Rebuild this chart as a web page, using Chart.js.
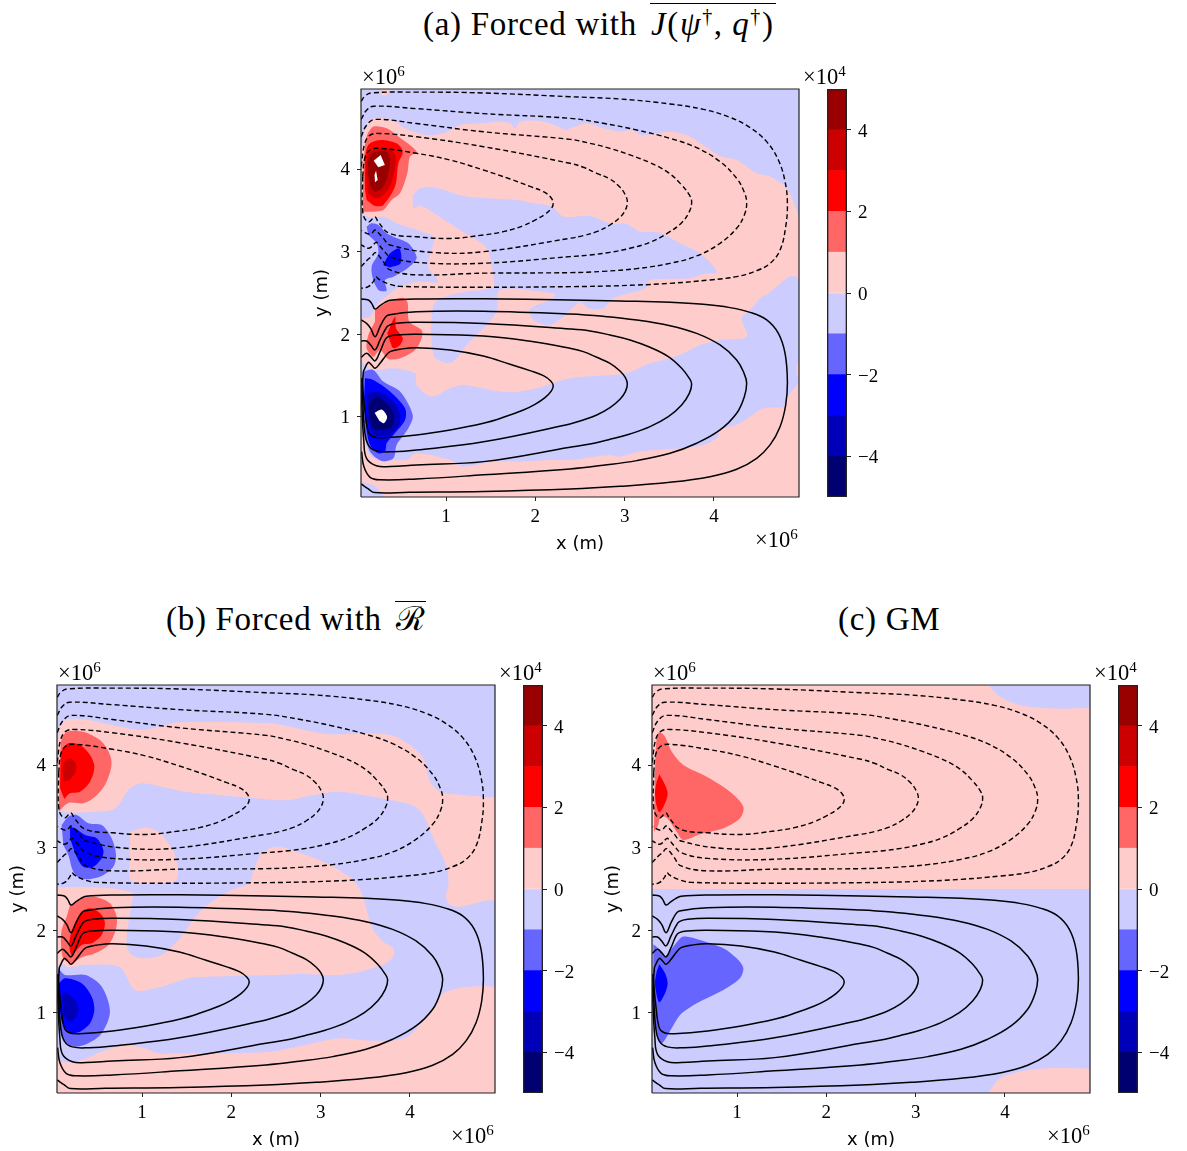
<!DOCTYPE html>
<html><head><meta charset="utf-8">
<script src="https://cdn.jsdelivr.net/npm/chart.js@4"></script>
<style>
html,body{margin:0;padding:0;background:#fff;width:1187px;height:1151px;overflow:hidden}
canvas{position:absolute}
.t{position:absolute;white-space:nowrap;font-family:"Liberation Serif",serif;color:#000}
.title{font-size:33px;line-height:36px;letter-spacing:.7px}
.title i{font-style:italic}
.title sup{font-size:20px;line-height:0}
.ov{border-top:1.5px solid #000;display:inline-block;line-height:34px;padding:0 1px}
.math{letter-spacing:1.7px;margin-left:4px;line-height:40px}
.off{font-size:22.5px;line-height:20px}
.off sup{font-size:15px;line-height:0}
</style></head><body>
<div class="t title" style="left:423px;top:3px">(a) Forced with <span class="ov math"><i>J</i>(<i>ψ</i><sup>†</sup>,&#8201;<i>q</i><sup>†</sup>)</span></div>
<div class="t title" style="left:166px;top:601px">(b) Forced with <span class="ov" style="margin-left:4px"><span style="font-family:'DejaVu Serif'">ℛ</span></span></div>
<div class="t title" style="left:838px;top:601px">(c) GM</div>
<canvas id="pa"></canvas><canvas id="ca"></canvas>
<canvas id="pb"></canvas><canvas id="cb"></canvas>
<canvas id="pc"></canvas><canvas id="cc"></canvas>
<div class="t off" style="left:362px;top:67px">×10<sup>6</sup></div>
<div class="t off" style="left:803px;top:67px">×10<sup>4</sup></div>
<div class="t off" style="left:755px;top:530px">×10<sup>6</sup></div>
<div class="t off" style="left:58px;top:663px">×10<sup>6</sup></div>
<div class="t off" style="left:499px;top:663px">×10<sup>4</sup></div>
<div class="t off" style="left:451px;top:1126px">×10<sup>6</sup></div>
<div class="t off" style="left:653px;top:663px">×10<sup>6</sup></div>
<div class="t off" style="left:1094px;top:663px">×10<sup>4</sup></div>
<div class="t off" style="left:1047px;top:1126px">×10<sup>6</sup></div>
<script>
// ---- axis content (units: 1e6 m, colour bar 1e4) ----
const xTicks=[1,2,3,4];
const yTicks=[1,2,3,4];
const domainX=[0.048,4.952];
const domainY=[0.032,4.968];
const barLevels=[-5,-4,-3,-2,-1,0,1,2,3,4,5];
const barColors=["#000070","#0000b8","#0000ff","#6666ff","#ccccff","#ffcccc","#ff6666","#ff0000","#cc0000","#990000"];
const barTicks=[-4,-2,0,2,4];
const xName="x (m)", yName="y (m)";

// ---- streamfunction contours, lower gyre ----
const C1=[[.05,2.428],[.13,2.416],[.167,2.375],[.205,2.307],[.261,2.347],[.317,2.387],[.373,2.412],[.67,2.428],[1.42,2.43],[2.39,2.416],[2.948,2.403],[3.508,2.387],[3.881,2.363],[4.18,2.323],[4.404,2.266],[4.59,2.174],[4.721,2.012],[4.796,1.77],[4.822,1.428],[4.803,1.145],[4.74,.883],[4.628,.662],[4.478,.5],[4.254,.367],[3.956,.278],[3.508,.21],[2.948,.161],[2.39,.129],[1.42,.10],[.59,.09],[.2,.085],[.13,.13],[.05,.19]];
const C2=[[.05,2.174],[.11,2.133],[.156,2.073],[.205,1.972],[.261,2.093],[.317,2.202],[.354,2.234],[.67,2.274],[1.42,2.28],[2.388,2.246],[2.761,2.218],[3.135,2.174],[3.508,2.105],[3.806,2.012],[4.068,1.871],[4.254,1.69],[4.337,1.528],[4.366,1.408],[4.34,1.246],[4.254,1.045],[4.068,.843],[3.806,.682],[3.508,.561],[3.135,.472],[2.761,.416],[2.388,.371],[1.42,.3],[.67,.25],[.26,.24],[.15,.27],[.08,.4],[.055,.58]];
const C3=[[.05,1.92],[.11,1.92],[.156,1.871],[.205,1.811],[.261,1.932],[.317,2.053],[.354,2.105],[.447,2.133],[.67,2.145],[1.42,2.13],[2.388,2.065],[2.612,2.041],[2.836,1.992],[3.06,1.932],[3.284,1.843],[3.489,1.73],[3.638,1.589],[3.724,1.468],[3.75,1.399],[3.724,1.286],[3.638,1.145],[3.489,1.004],[3.284,.883],[3.06,.795],[2.836,.73],[2.612,.674],[2.388,.633],[1.42,.46],[.67,.42],[.373,.4],[.22,.41],[.11,.5],[.08,.7],[.055,1.19],[.05,1.47]];
const C4=[[.05,1.72],[.11,1.77],[.156,1.73],[.205,1.678],[.261,1.791],[.317,1.932],[.354,1.972],[.447,1.992],[.67,2.0],[1.42,1.98],[1.98,1.91],[2.388,1.831],[2.537,1.791],[2.687,1.722],[2.836,1.649],[2.948,1.557],[3.008,1.476],[3.03,1.399],[3.008,1.307],[2.948,1.214],[2.836,1.113],[2.687,1.024],[2.537,.964],[2.388,.916],[1.42,.70],[.67,.60],[.41,.58],[.22,.59],[.13,.66],[.09,.82],[.067,1.19],[.055,1.47]];
const C5=[[.074,1.55],[.13,1.661],[.167,1.629],[.205,1.589],[.261,1.649],[.317,1.73],[.373,1.79],[.485,1.82],[.67,1.839],[1.045,1.811],[1.418,1.738],[1.717,1.637],[1.94,1.561],[2.09,1.5],[2.172,1.436],[2.2,1.379],[2.18,1.315],[2.108,1.234],[1.996,1.153],[1.866,1.085],[1.642,.996],[1.418,.924],[1.045,.843],[.67,.783],[.30,.75],[.186,.76],[.13,.82],[.093,1.07],[.067,1.39],[.074,1.55]];
// ---- streamfunction contours, upper gyre ----
const U1=[[.05,4.82],[.09,4.88],[.165,4.92],[.67,4.93],[1.42,4.92],[2.388,4.875],[2.948,4.847],[3.508,4.787],[3.881,4.722],[4.18,4.625],[4.404,4.5],[4.59,4.331],[4.721,4.109],[4.796,3.847],[4.822,3.585],[4.803,3.303],[4.74,3.02],[4.628,2.859],[4.478,2.77],[4.254,2.698],[3.956,2.658],[3.508,2.617],[2.948,2.589],[2.388,2.577],[1.42,2.57],[.485,2.58],[.373,2.605],[.298,2.637],[.242,2.67],[.216,2.698],[.186,2.637],[.13,2.577],[.05,2.557]];
const U2=[[.05,4.6],[.11,4.71],[.19,4.76],[.67,4.73],[1.42,4.67],[2.388,4.613],[2.761,4.553],[3.135,4.472],[3.508,4.371],[3.806,4.258],[4.068,4.089],[4.254,3.887],[4.337,3.726],[4.366,3.593],[4.34,3.444],[4.254,3.283],[4.068,3.101],[3.806,2.948],[3.508,2.859],[3.135,2.795],[2.761,2.762],[2.388,2.746],[1.42,2.74],[.67,2.72],[.373,2.779],[.298,2.879],[.242,2.96],[.205,2.988],[.167,2.94],[.13,2.912],[.05,2.819]];
const U3=[[.05,4.39],[.11,4.53],[.205,4.6],[.67,4.55],[1.42,4.45],[2.388,4.359],[2.612,4.311],[2.836,4.25],[3.06,4.17],[3.284,4.077],[3.489,3.956],[3.638,3.807],[3.724,3.686],[3.75,3.605],[3.724,3.484],[3.638,3.351],[3.489,3.23],[3.284,3.113],[3.06,3.041],[2.836,2.992],[2.612,2.96],[2.388,2.94],[1.42,2.86],[.67,2.87],[.373,2.94],[.298,3.021],[.242,3.089],[.216,3.113],[.167,3.061],[.13,3.041],[.05,3.081]];
const U4=[[.05,4.03],[.09,4.31],[.15,4.41],[.26,4.43],[.67,4.39],[1.42,4.27],[2.388,4.069],[2.537,4.021],[2.687,3.948],[2.836,3.879],[2.948,3.779],[3.008,3.686],[3.03,3.605],[3.008,3.504],[2.948,3.416],[2.836,3.323],[2.687,3.242],[2.537,3.194],[2.388,3.162],[1.42,3.0],[.86,2.99],[.373,3.081],[.298,3.162],[.242,3.23],[.205,3.262],[.167,3.222],[.13,3.214],[.055,3.254]];
const U5=[[.067,3.91],[.09,4.13],[.15,4.23],[.26,4.25],[.67,4.19],[1.045,4.109],[1.418,3.988],[1.717,3.879],[1.94,3.789],[2.09,3.726],[2.172,3.658],[2.2,3.585],[2.18,3.525],[2.108,3.452],[1.996,3.383],[1.866,3.315],[1.642,3.242],[1.418,3.202],[1.05,3.16],[.67,3.18],[.37,3.22],[.24,3.36],[.205,3.42],[.13,3.36],[.07,3.46],[.067,3.91]];

const wholeBox=[[.048,.032],[4.952,.032],[4.952,4.968],[.048,4.968]];

// ---- panel (a) filled bands ----
const aBlueTop=[[.048,4.968],[4.952,4.968],[4.952,3.424],[4.926,3.504],[4.814,3.767],[4.628,3.908],[4.478,3.948],[4.254,4.109],[4.068,4.158],[3.881,4.291],[3.694,4.412],[3.508,4.452],[3.19,4.412],[3.079,4.472],[2.948,4.452],[2.761,4.492],[2.575,4.553],[2.388,4.492],[2.35,4.47],[2.16,4.553],[2.015,4.585],[1.83,4.573],[1.77,4.492],[1.716,4.553],[1.567,4.573],[1.418,4.553],[1.157,4.533],[.97,4.432],[.78,4.412],[.54,4.492],[.41,4.593],[.186,4.613],[.11,4.533],[.074,4.371],[.048,4.069]];
const aPinkNick=[[.28,4.968],[.39,4.968],[.335,4.896],[.28,4.875]];
const aBlueMid=[[.627,3.686],[.709,3.766],[.858,3.779],[1.231,3.666],[1.791,3.625],[1.978,3.585],[2.183,3.545],[2.314,3.424],[2.612,3.432],[2.836,3.343],[3.023,3.335],[3.172,3.242],[3.396,3.23],[3.62,3.101],[3.844,2.98],[4.03,2.758],[3.881,2.73],[3.732,2.678],[3.284,2.658],[3.228,2.557],[2.873,2.436],[2.761,2.315],[2.593,2.315],[2.5,2.387],[2.314,2.214],[2.164,2.113],[2.052,2.133],[1.959,2.194],[1.94,2.307],[2.164,2.416],[2.22,2.476],[2.2,2.496],[1.605,2.537],[1.567,2.274],[1.418,2.073],[1.231,1.871],[1.082,1.67],[.97,1.661],[.858,1.75],[.858,2.355],[1.045,2.476],[1.231,2.516],[1.53,2.577],[1.53,2.698],[1.455,3.041],[1.213,3.222],[.895,3.444],[.727,3.553],[.634,3.525]];
const aBlueLeft=[[.048,3.464],[.167,3.404],[.298,3.424],[.447,3.343],[.671,3.262],[.858,3.182],[.858,3.101],[.802,2.819],[.914,2.637],[.671,2.637],[.466,2.569],[.354,2.476],[.223,2.355],[.149,2.214],[.048,2.194]];
const aBlueLow=[[.048,1.69],[.093,1.629],[.186,1.569],[.41,1.589],[.653,1.528],[.671,1.387],[.839,1.246],[1.045,1.347],[1.194,1.387],[1.679,1.299],[2.015,1.347],[2.388,1.468],[2.836,1.508],[3.023,1.528],[3.284,1.649],[3.508,1.71],[3.657,1.77],[3.844,1.871],[4.068,1.932],[4.366,1.972],[4.31,2.194],[4.404,2.295],[4.534,2.456],[4.59,2.476],[4.721,2.597],[4.85,2.70],[4.952,2.67],[4.952,1.68],[4.926,1.63],[4.93,1.52],[4.952,1.43],[4.814,1.226],[4.777,1.125],[4.553,1.105],[4.292,.924],[4.068,.843],[4.03,.742],[3.881,.662],[3.62,.621],[3.172,.581],[2.948,.52],[2.836,.54],[2.388,.48],[2.164,.48],[1.866,.46],[1.53,.46],[1.194,.399],[1.045,.48],[.671,.56],[.559,.48],[.429,.48],[.298,.46],[.149,.54],[.074,.783],[.048,.984]];
const aBlueCorner=[[.048,.218],[.186,.178],[.298,.057],[.298,.032],[.048,.032]];
const aRed1=[[.067,3.585],[.074,3.867],[.082,4.15],[.111,4.392],[.186,4.512],[.335,4.492],[.466,4.392],[.671,4.21],[.597,4.15],[.567,3.948],[.485,3.706],[.391,3.625],[.298,3.504],[.186,3.484],[.074,3.484]];
const aRed2=[[.093,3.746],[.093,4.109],[.13,4.291],[.261,4.351],[.447,4.311],[.515,4.21],[.466,4.069],[.429,3.787],[.298,3.565],[.205,3.553],[.111,3.625]];
const aRed3=[[.111,3.827],[.111,4.109],[.149,4.21],[.335,4.25],[.429,4.17],[.429,4.008],[.373,3.787],[.298,3.686],[.205,3.646],[.13,3.706]];
const aRed4=[[.13,3.908],[.13,4.109],[.186,4.198],[.335,4.21],[.373,4.109],[.354,3.948],[.298,3.787],[.205,3.726],[.149,3.807]];
const aOverA=[[.19,4.10],[.268,4.17],[.315,4.049],[.242,4.02]];
const aOverB=[[.2,3.93],[.216,3.98],[.235,3.867],[.205,3.84]];
const aMidBlue1=[[.111,3.303],[.167,3.343],[.242,3.323],[.335,3.222],[.41,3.182],[.578,3.101],[.671,2.94],[.634,2.859],[.541,2.779],[.41,2.698],[.317,2.658],[.335,2.53],[.29,2.52],[.242,2.537],[.186,2.658],[.167,2.819],[.242,2.98],[.223,3.101],[.13,3.202]];
const aMidBlue2=[[.298,2.839],[.373,2.98],[.477,3.04],[.492,2.859],[.373,2.81]];
const aLowRed1=[[.205,2.295],[.354,2.395],[.503,2.444],[.567,2.395],[.589,2.153],[.727,2.053],[.727,1.952],[.653,1.811],[.485,1.71],[.354,1.702],[.261,1.811],[.186,1.73],[.111,1.831],[.13,1.992],[.205,2.153]];
const aLowRed2=[[.343,2.012],[.429,2.214],[.44,2.073],[.515,1.952],[.485,1.871],[.41,1.831],[.373,1.912]];
const aLowBlue1=[[.074,1.549],[.186,1.569],[.298,1.428],[.485,1.307],[.627,1.024],[.578,.863],[.447,.662],[.41,.5],[.279,.468],[.149,.581],[.093,.823],[.067,1.186]];
const aLowBlue2=[[.093,1.468],[.186,1.448],[.373,1.307],[.541,1.105],[.541,.964],[.41,.783],[.335,.682],[.317,.581],[.242,.561],[.149,.662],[.104,.903],[.082,1.226]];
const aLowBlue3=[[.111,1.286],[.242,1.307],[.41,1.186],[.485,1.024],[.466,.883],[.354,.783],[.186,.783],[.119,.984]];
const aLowBlue4=[[.13,1.145],[.223,1.246],[.373,1.125],[.418,1.004],[.391,.883],[.261,.843],[.179,.863],[.149,.984]];
const aLowOver=[[.2,1.05],[.279,1.09],[.34,1.004],[.305,.925],[.255,.95]];

// ---- panel (b) filled bands ----
const bBlueTop=[[.048,4.968],[4.952,4.968],[4.952,3.63],[4.82,3.617],[4.52,3.645],[4.337,3.678],[4.225,3.8],[4.15,4.08],[4.0,4.242],[3.814,4.355],[3.553,4.383],[3.105,4.371],[2.918,4.403],[2.657,4.464],[2.43,4.504],[1.407,4.516],[1.183,4.464],[.996,4.424],[.66,4.484],[.399,4.545],[.175,4.557],[.1,4.504],[.07,4.424],[.048,4.0]];
const bBlueMain=[[.048,3.476],[.138,3.428],[.362,3.428],[.66,3.456],[.753,3.537],[.847,3.698],[.996,3.778],[1.22,3.738],[1.481,3.678],[1.78,3.645],[2.489,3.577],[2.657,3.577],[2.881,3.629],[3.18,3.678],[3.478,3.637],[3.739,3.585],[4.038,3.508],[4.15,3.395],[4.262,3.113],[4.411,2.77],[4.43,2.549],[4.404,2.407],[4.449,2.307],[4.561,2.286],[4.96,2.335],[4.96,1.339],[4.822,1.327],[4.598,1.311],[4.374,1.238],[4.299,1.117],[4.15,.915],[4.001,.734],[3.851,.673],[3.553,.665],[3.217,.694],[2.993,.653],[2.657,.573],[2.433,.532],[1.78,.512],[1.407,.512],[1.183,.512],[1.033,.573],[.809,.613],[.548,.532],[.324,.431],[.1,.411],[.063,.593],[.05,.996],[.055,1.52],[.082,1.601],[.175,1.553],[.362,1.581],[.753,1.553],[.921,1.278],[1.22,1.319],[1.519,1.42],[1.78,1.44],[2.489,1.46],[2.806,1.472],[3.18,1.46],[3.441,1.5],[3.739,1.609],[3.822,1.702],[3.814,1.782],[3.702,1.863],[3.59,2.004],[3.515,2.246],[3.46,2.448],[3.366,2.609],[3.291,2.67],[3.068,2.811],[2.732,2.952],[2.508,3.012],[2.34,2.932],[2.247,2.71],[2.209,2.569],[2.172,2.549],[2.004,2.488],[1.78,2.347],[1.631,2.206],[1.519,2.044],[1.407,1.883],[1.22,1.702],[1.033,1.661],[.884,1.702],[.828,1.823],[.847,2.085],[.892,2.367],[.903,2.448],[.66,2.508],[.287,2.528],[.063,2.52],[.048,2.52]];
const bPinkIsle=[[.865,3.194],[1.033,3.242],[1.183,3.194],[1.332,2.992],[1.399,2.77],[1.369,2.597],[.884,2.597],[.865,2.911]];
const bRed1=[[.07,3.496],[.082,4.081],[.108,4.343],[.194,4.412],[.362,4.395],[.548,4.283],[.649,4.101],[.653,3.96],[.585,3.758],[.474,3.617],[.343,3.537],[.194,3.545],[.119,3.496],[.07,3.436]];
const bRed2=[[.082,3.718],[.1,4.162],[.175,4.262],[.306,4.242],[.418,4.121],[.466,3.98],[.418,3.799],[.306,3.678],[.194,3.658],[.13,3.589]];
const bRed3=[[.119,3.799],[.119,4.0],[.194,4.081],[.257,4.02],[.257,3.92],[.194,3.819]];
const bMidBlue1=[[.1,3.274],[.175,3.375],[.268,3.395],[.399,3.295],[.548,3.274],[.66,3.113],[.709,2.911],[.679,2.77],[.529,2.649],[.324,2.621],[.231,2.71],[.175,2.911],[.119,3.033]];
const bMidBlue2=[[.194,3.254],[.25,3.234],[.362,3.153],[.492,3.113],[.567,2.972],[.548,2.871],[.455,2.77],[.343,2.77],[.268,2.891],[.194,3.113]];
const bLowRed1=[[.194,2.307],[.324,2.387],[.474,2.407],[.641,2.327],[.716,2.165],[.705,2.004],[.623,1.823],[.474,1.722],[.324,1.673],[.212,1.601],[.119,1.661],[.093,1.823],[.1,2.004],[.156,2.165]];
const bLowRed2=[[.212,2.004],[.324,2.226],[.436,2.266],[.548,2.186],[.585,2.085],[.548,1.944],[.436,1.843],[.324,1.823],[.212,1.702],[.182,1.843]];
const bLowBlue1=[[.063,1.54],[.138,1.46],[.37,1.46],[.548,1.319],[.641,1.016],[.548,.754],[.399,.633],[.25,.593],[.119,.673],[.063,.915]];
const bLowBlue2=[[.07,1.359],[.138,1.42],[.324,1.359],[.436,1.198],[.466,1.036],[.418,.875],[.306,.774],[.194,.762],[.108,.875],[.07,1.117]];
const bLowBlue3=[[.108,1.238],[.156,1.246],[.25,1.157],[.287,1.056],[.268,.956],[.194,.895],[.119,.976]];

// ---- panel (c) filled bands ----
const cLowerHalf=[[.048,.032],[4.952,.032],[4.952,2.5],[.048,2.5]];
const cCornerTR=[[3.814,4.968],[3.945,4.827],[4.169,4.726],[4.467,4.686],[4.766,4.686],[4.96,4.714],[4.96,4.968]];
const cCornerBR=[[3.814,.032],[3.945,.21],[4.206,.299],[4.467,.331],[4.766,.331],[4.96,.307],[4.96,.032]];
const cRed1=[[.07,3.194],[.082,3.879],[.1,4.323],[.13,4.395],[.194,4.343],[.268,4.162],[.399,4.0],[.66,3.859],[.921,3.678],[1.071,3.496],[1.033,3.355],[.847,3.234],[.585,3.162],[.399,3.093],[.324,3.194],[.25,3.315],[.194,3.375],[.138,3.355],[.119,3.274]];
const cRed2=[[.13,3.887],[.194,3.758],[.223,3.658],[.194,3.537],[.13,3.428],[.093,3.537],[.082,3.678],[.1,3.799]];
const cBlue1=[[.063,1.831],[.138,1.762],[.194,1.682],[.287,1.803],[.399,1.924],[.585,1.883],[.847,1.782],[1.014,1.641],[1.071,1.541],[1.033,1.42],[.847,1.279],[.548,1.117],[.362,.976],[.268,.815],[.156,.633],[.1,.774],[.07,1.057],[.063,1.46]];
const cBlue2=[[.13,1.589],[.194,1.48],[.223,1.359],[.194,1.238],[.13,1.129],[.093,1.258],[.082,1.379],[.1,1.5]];

const PALE_R="#ffcccc",PALE_B="#ccccff",MID_R="#ff6666",MID_B="#6666ff",RED="#ff0000",BLUE="#0000ff",DK_R="#cc0000",DK_B="#0000b8",DEEP_R="#990000",DEEP_B="#000070",OVER="#ffffff";

const layersA=[[wholeBox,PALE_R],[aBlueTop,PALE_B],[aPinkNick,PALE_R],[aBlueMid,PALE_B],[aBlueLeft,PALE_B],[aBlueLow,PALE_B],[aBlueCorner,PALE_B],
 [aRed1,MID_R],[aRed2,RED],[aRed3,DK_R],[aRed4,DEEP_R],[aOverA,OVER],[aOverB,OVER],[aMidBlue1,MID_B],[aMidBlue2,BLUE],[aLowRed1,MID_R],[aLowRed2,RED],
 [aLowBlue1,MID_B],[aLowBlue2,BLUE],[aLowBlue3,DK_B],[aLowBlue4,DEEP_B],[aLowOver,OVER]];
const layersB=[[wholeBox,PALE_R],[bBlueTop,PALE_B],[bBlueMain,PALE_B],[bPinkIsle,PALE_R],[bRed1,MID_R],[bRed2,RED],[bRed3,DK_R],[bMidBlue1,MID_B],[bMidBlue2,BLUE],
 [bLowRed1,MID_R],[bLowRed2,RED],[bLowBlue1,MID_B],[bLowBlue2,BLUE],[bLowBlue3,DK_B]];
const layersC=[[wholeBox,PALE_R],[cLowerHalf,PALE_B],[cCornerTR,PALE_B],[cCornerBR,PALE_R],[cRed1,MID_R],[cRed2,RED],[cBlue1,MID_B],[cBlue2,BLUE]];

const solid=[C1,C2,C3,C4,C5], dashed=[U1,U2,U3,U4,U5];
const tickFont={family:"Liberation Serif",size:19};
const nameFont={family:"DejaVu Sans",size:18};
const pts=a=>a.map(p=>({x:p[0],y:p[1]}));

function panel(id,left,top,layers){
  const pad={l:49,t:20,r:10,b:58}, W=438, H=408;
  const el=document.getElementById(id);
  el.width=W+pad.l+pad.r; el.height=H+pad.t+pad.b;
  el.style.left=(left-pad.l)+"px"; el.style.top=(top-pad.t)+"px";
  const ds=[];
  layers.forEach(l=>ds.push({data:pts(l[0]),showLine:true,fill:"shape",backgroundColor:l[1],borderWidth:0,pointRadius:0,tension:l[0].length>4?.3:0}));
  solid.forEach(c=>ds.push({data:pts(c),showLine:true,fill:false,borderColor:"#000",borderWidth:1.5,pointRadius:0,tension:.4}));
  dashed.forEach(c=>ds.push({data:pts(c),showLine:true,fill:false,borderColor:"#000",borderWidth:1.4,borderDash:[5,3],pointRadius:0,tension:.4}));
  ds.push({data:pts(wholeBox.concat([wholeBox[0]])),showLine:true,fill:false,borderColor:"#222",borderWidth:1.2,pointRadius:0,tension:0,clip:false});
  new Chart(el,{type:"scatter",data:{datasets:ds.reverse()},options:{
    responsive:false,animation:false,events:[],
    layout:{padding:{top:pad.t,right:pad.r,left:0,bottom:0}},
    plugins:{legend:{display:false},tooltip:{enabled:false}},
    scales:{
      x:{type:"linear",min:domainX[0],max:domainX[1],border:{display:false},
         grid:{drawOnChartArea:false,drawTicks:true,tickLength:4,color:"#222"},
         afterBuildTicks:s=>{s.ticks=xTicks.map(v=>({value:v}))},
         afterFit:s=>{s.height=pad.b},
         ticks:{color:"#000",font:tickFont,padding:5,maxRotation:0,autoSkip:false},
         title:{display:true,text:xName,color:"#000",font:nameFont,padding:{top:0,bottom:0}}},
      y:{type:"linear",min:domainY[0],max:domainY[1],border:{display:false},
         grid:{drawOnChartArea:false,drawTicks:true,tickLength:4,color:"#222"},
         afterBuildTicks:s=>{s.ticks=yTicks.map(v=>({value:v}))},
         afterFit:s=>{s.width=pad.l},
         ticks:{color:"#000",font:tickFont,padding:7,labelOffset:1.5,autoSkip:false},
         title:{display:true,text:yName,color:"#000",font:nameFont,padding:{top:0,bottom:0}}}
    }}});
}
function colorbar(id,left,top){
  const pad={t:4,b:4,r:40}, W=20, H=408;
  const el=document.getElementById(id);
  el.width=W+pad.r; el.height=H+pad.t+pad.b;
  el.style.left=left+"px"; el.style.top=(top-pad.t)+"px";
  const ds=barColors.map((c,i)=>({data:[[barLevels[i],barLevels[i+1]]],backgroundColor:c,borderWidth:0,barPercentage:1,categoryPercentage:1,grouped:false,order:2}));
  ds.push({data:[[barLevels[0],barLevels[barLevels.length-1]]],backgroundColor:"rgba(0,0,0,0)",borderColor:"#222",borderWidth:1,borderSkipped:false,barPercentage:1,categoryPercentage:1,grouped:false,order:1});
  new Chart(el,{type:"bar",data:{labels:[""],datasets:ds},options:{
    responsive:false,animation:false,events:[],
    layout:{padding:{top:pad.t,bottom:pad.b,left:0,right:0}},
    plugins:{legend:{display:false},tooltip:{enabled:false}},
    scales:{
      x:{display:false,grid:{display:false}},
      y:{position:"right",min:barLevels[0],max:barLevels[barLevels.length-1],border:{display:false},
         grid:{drawOnChartArea:false,drawTicks:true,tickLength:4,color:"#222"},
         afterBuildTicks:s=>{s.ticks=barTicks.map(v=>({value:v}))},
         afterFit:s=>{s.width=pad.r;s.paddingTop=0;s.paddingBottom=0},
         ticks:{color:"#000",font:tickFont,padding:7,labelOffset:2,autoSkip:false,
                callback:v=>(v<0?"\u2212"+(-v):""+v)}}
    }}});
}
panel("pa",361,89,layersA);  colorbar("ca",827,89);
panel("pb",57,685,layersB);  colorbar("cb",523,685);
panel("pc",652,685,layersC); colorbar("cc",1118,685);
</script></body></html>
